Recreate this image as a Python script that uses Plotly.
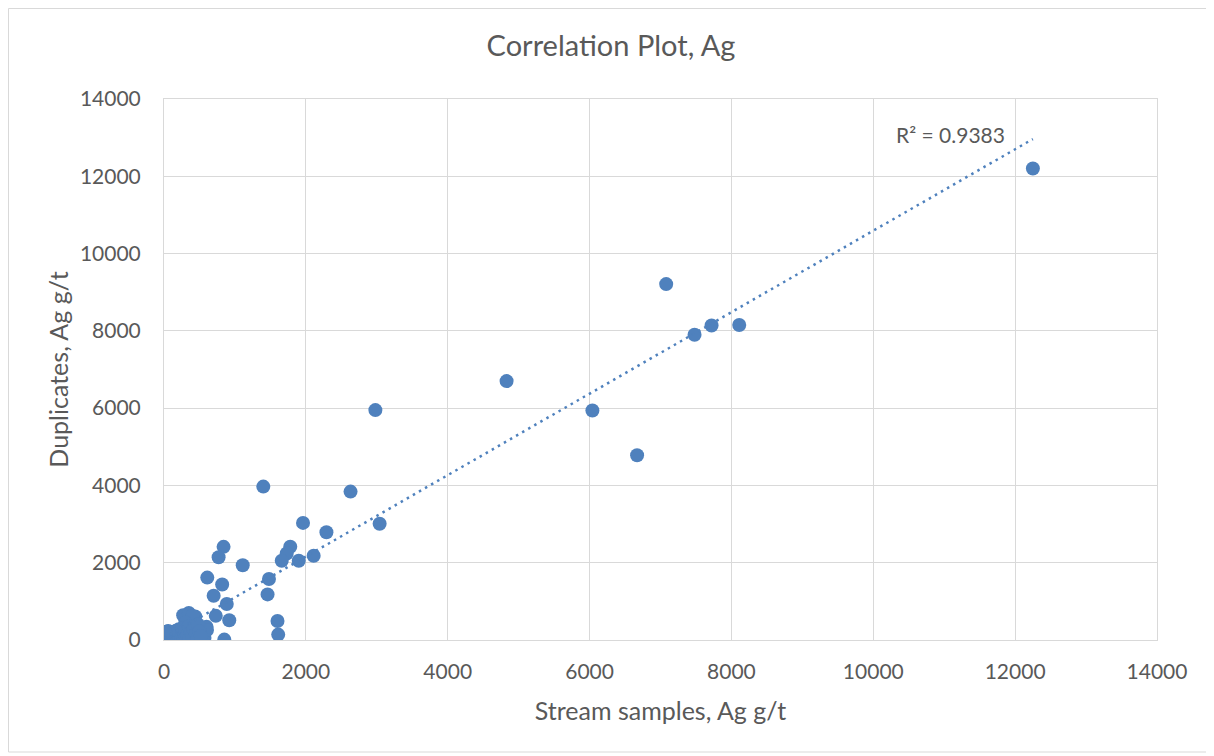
import numpy as np
import plotly.graph_objects as go

# Stream samples (x) vs Duplicates (y), Ag g/t
stream_ag = [
    12250, 7080, 8110, 7720, 7480, 4830, 6040, 6670, 2980, 1400, 2630, 1960, 3040, 2290,
    1780, 1730, 1660, 1900, 2110, 840, 770, 1110, 1480, 1460, 610, 820, 700, 885, 730, 920,
    1600, 1610, 850, 440, 600, 570, 405, 320, 550, 270, 350, 400, 300, 606,
    5, 10, 20, 30, 15, 40, 50, 60, 70, 80, 90, 100, 110, 120, 130, 140, 150, 160, 170, 180,
    190, 200, 210, 220, 230, 240, 250, 260, 270, 280, 290, 300, 310, 330, 350, 360, 380,
    400, 420, 450, 470, 480, 500, 520, 30, 60, 0, 25, 10,
]
duplicates_ag = [
    12200, 9210, 8150, 8140, 7900, 6700, 5940, 4780, 5950, 3970, 3840, 3030, 3010, 2790,
    2415, 2240, 2050, 2050, 2180, 2410, 2140, 1935, 1580, 1180, 1615, 1435, 1145, 930, 625, 510,
    490, 140, 10, 610, 340, 60, 180, 520, 45, 640, 700, 620, 450, 260,
    10, 30, 5, 60, 120, 20, 90, 40, 150, 10, 70, 200, 30, 110, 60, 170, 20, 90, 240, 50,
    130, 10, 280, 80, 160, 30, 220, 300, 100, 40, 180, 250, 60, 130, 350, 20, 200,
    90, 280, 150, 30, 400, 220, 100, 200, 230, 0, 180, 210,
]
r2_label = "R² = 0.9383"
title_text = "Correlation Plot, Ag"
x_title = "Stream samples, Ag g/t"
y_title = "Duplicates, Ag g/t"
tick_vals = [0, 2000, 4000, 6000, 8000, 10000, 12000, 14000]
tick_text = ["0", "2000", "4000", "6000", "8000", "10000", "12000", "14000"]

xs = np.array(stream_ag, dtype=float)
ys = np.array(duplicates_ag, dtype=float)
slope, intercept = np.polyfit(xs, ys, 1)
trend_x = np.array([xs.min(), xs.max()])
trend_y = slope * trend_x + intercept

blue = "#4F81BD"
grid = "#D9D9D9"
txt = "#595959"
font_family = "Lato, 'Open Sans', sans-serif"

# page body has an 8px margin, so the figure is sized/positioned to compensate
W, H = 1206, 748
L, T = 156, 91
R, B = 1206 - 1149, 748 - 632
pw, ph = W - L - R, H - T - B

fig = go.Figure()
fig.add_trace(go.Scatter(
    x=xs, y=ys, mode="markers",
    marker=dict(color=blue, size=14, line=dict(width=0)),
    showlegend=False, hoverinfo="x+y",
))
fig.add_trace(go.Scatter(
    x=trend_x, y=trend_y, mode="lines",
    line=dict(color=blue, width=2.5, dash="2.5px,4.5px"),
    showlegend=False, hoverinfo="skip",
))

axis_common = dict(
    range=[0, 14000], tickvals=tick_vals, ticktext=tick_text, showgrid=True, gridcolor=grid,
    gridwidth=1, zeroline=False, showline=True, linecolor=grid, linewidth=1, mirror=True,
    ticks="outside", tickcolor="rgba(0,0,0,0)",
    tickfont=dict(family=font_family, size=21, color=txt),
)

fig.update_layout(
    width=W, height=H,
    margin=dict(l=L, r=R, t=T, b=B, autoexpand=False),
    paper_bgcolor="white", plot_bgcolor="white",
    font=dict(family=font_family, color=txt),
    title=dict(text=title_text, x=0.5, xanchor="center", y=1 - 38 / H, yanchor="middle",
               yref="container", font=dict(family=font_family, size=29, color=txt)),
    xaxis=dict(**axis_common, ticklen=13,
               title=dict(text=x_title, font=dict(family=font_family, size=25, color=txt), standoff=20)),
    yaxis=dict(**axis_common, ticklen=18,
               title=dict(text=y_title, font=dict(family=font_family, size=25, color=txt), standoff=4)),
    annotations=[dict(
        x=11885, y=13070, xref="x", yref="y", text=r2_label, showarrow=False,
        xanchor="right", yanchor="middle", font=dict(family=font_family, size=21, color=txt),
    )],
    shapes=[dict(
        type="rect", xref="paper", yref="paper",
        x0=(0.5 - L) / pw, x1=(1203 - L) / pw,
        y0=(T + ph - 744) / ph, y1=(T + ph - 0.5) / ph,
        line=dict(color=grid, width=1), fillcolor="rgba(0,0,0,0)", layer="below",
    )],
)

fig.write_html("out.html")
